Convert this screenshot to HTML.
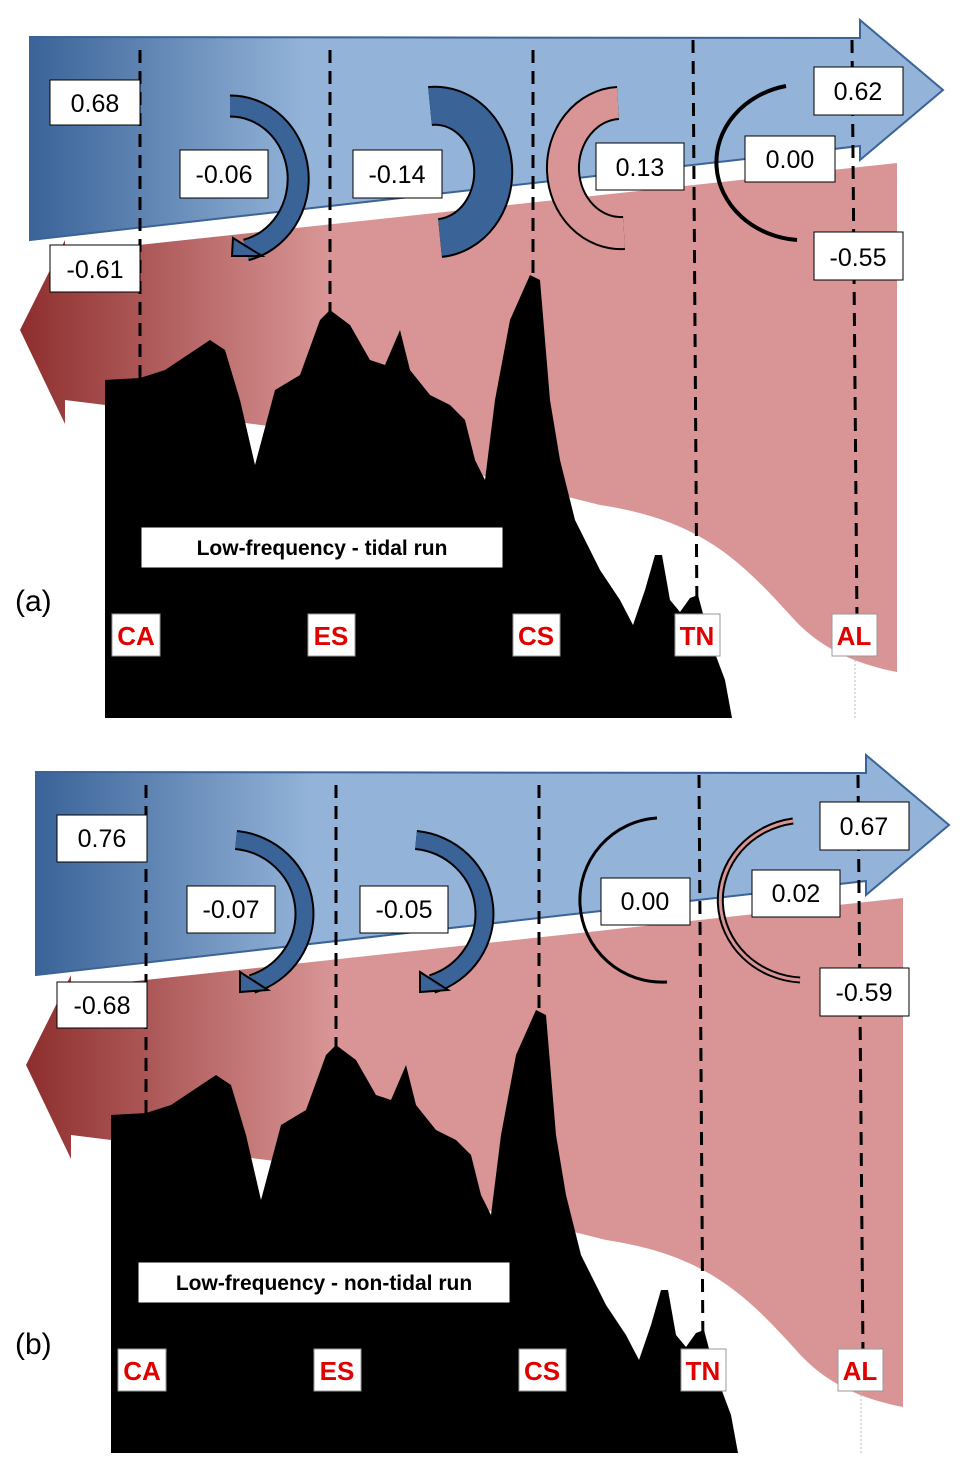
<!DOCTYPE html>
<html><head><meta charset="utf-8"><style>
html,body{margin:0;padding:0;background:#fff;}
svg{display:block;}
text{font-family:"Liberation Sans",sans-serif;}
.v{font-size:25px;text-anchor:middle;fill:#000;}
.s{font-size:26px;font-weight:bold;text-anchor:middle;fill:#e00000;}
</style></head><body>
<svg width="966" height="1473" viewBox="0 0 966 1473" xmlns="http://www.w3.org/2000/svg">
<defs>
<linearGradient id="bg" x1="0" x2="1" y1="0" y2="0">
<stop offset="0" stop-color="#3a6398"/><stop offset="0.3" stop-color="#93b3d8"/><stop offset="1" stop-color="#93b3d8"/>
</linearGradient>
<linearGradient id="pg" x1="0" x2="1" y1="0" y2="0">
<stop offset="0" stop-color="#8e2e2e"/><stop offset="0.35" stop-color="#d99595"/><stop offset="1" stop-color="#d99595"/>
</linearGradient>
<g id="base">
<path d="M65,240 L65,253 L897,163 L897,672 C860,665 820,650 790,615 C740,560 700,520 600,505 L300,430 L105,405 L65,400 L65,424 L20,330 Z" fill="url(#pg)"/>
<path d="M30,37 L860,38 L860,20 L943,90 L860,160 L860,146 L30,240 Z" fill="url(#bg)" stroke="#3a6398" stroke-width="2"/>
<path d="M105,380 L140,378 L165,370 L210,340 L225,350 L240,400 L255,465 L275,390 L300,375 L320,320 L330,310 L350,325 L370,360 L385,365 L400,330 L410,370 L430,395 L450,405 L465,420 L475,460 L485,480 L495,400 L510,320 L530,275 L540,280 L550,400 L560,460 L575,520 L600,570 L620,600 L633,625 L645,590 L655,555 L662,555 L670,600 L680,612 L690,598 L698,595 L710,640 L725,680 L732,718 L105,718 Z" fill="#000"/>
<g stroke="#000" stroke-width="3" stroke-dasharray="13,8">
<line x1="140" y1="50" x2="140" y2="620"/>
<line x1="330" y1="50" x2="330" y2="620"/>
<line x1="533" y1="50" x2="533" y2="620"/>
<line x1="693" y1="40" x2="697" y2="620"/>
<line x1="852" y1="40" x2="857" y2="620"/>
</g>
<line x1="855" y1="656" x2="855" y2="718" stroke="#bbb" stroke-width="1" stroke-dasharray="2,2"/>
<g fill="#fff" stroke="#999" stroke-width="1">
<rect x="112" y="614" width="48" height="42"/><rect x="308" y="614" width="47" height="42"/>
<rect x="513" y="614" width="47" height="42"/><rect x="675" y="614" width="45" height="42"/>
<rect x="832" y="614" width="45" height="42"/>
</g>
<text class="s" x="136" y="645">CA</text><text class="s" x="331" y="645">ES</text>
<text class="s" x="536" y="645">CS</text><text class="s" x="697" y="645">TN</text>
<text class="s" x="854" y="645">AL</text>
</g>
</defs>

<use href="#base"/>
<path d="M230,106 A68,73 0 0 1 246,250" fill="none" stroke="#000" stroke-width="23"/>
<path d="M230,106 A68,73 0 0 1 246,250" fill="none" stroke="#3a6398" stroke-width="19"/>
<path d="M233,238 L262,256 L232,256 Z" fill="#3a6398" stroke="#000" stroke-width="2"/>
<path d="M430,106 A58,66 0 0 1 440,238" fill="none" stroke="#000" stroke-width="40"/>
<path d="M430,106 A58,66 0 0 1 440,238" fill="none" stroke="#3a6398" stroke-width="36"/>
<path d="M618,103 A58,65 0 0 0 624,233" fill="none" stroke="#000" stroke-width="34"/>
<path d="M618,103 A58,65 0 0 0 624,233" fill="none" stroke="#d99595" stroke-width="30"/>
<path d="M786,86 A88,78 0 0 0 797,240" fill="none" stroke="#000" stroke-width="4"/>
<g fill="#fff" stroke="#000" stroke-width="1">
<rect x="50" y="80" width="90" height="45"/><rect x="180" y="150" width="88" height="48"/>
<rect x="353" y="150" width="89" height="48"/><rect x="596" y="143" width="88" height="47"/>
<rect x="745" y="136" width="90" height="46"/><rect x="814" y="67" width="89" height="48"/>
<rect x="50" y="245" width="90" height="47"/><rect x="814" y="232" width="89" height="48"/>
<rect x="141" y="527" width="362" height="41"/>
</g>
<text class="v" x="95" y="112">0.68</text><text class="v" x="224" y="183">-0.06</text>
<text class="v" x="397" y="183">-0.14</text><text class="v" x="640" y="176">0.13</text>
<text class="v" x="790" y="168">0.00</text><text class="v" x="858" y="100">0.62</text>
<text class="v" x="95" y="278">-0.61</text><text class="v" x="858" y="266">-0.55</text>
<text x="322" y="555" font-size="21" font-weight="bold" text-anchor="middle">Low-frequency - tidal run</text>
<text x="15" y="611" font-size="30">(a)</text>

<g transform="translate(6,735)"><use href="#base"/></g>
<path d="M236,840 A76,74 0 0 1 252,984" fill="none" stroke="#000" stroke-width="20"/>
<path d="M236,840 A76,74 0 0 1 252,984" fill="none" stroke="#3a6398" stroke-width="16"/>
<path d="M240,972 L268,990 L240,992 Z" fill="#3a6398" stroke="#000" stroke-width="2"/>
<path d="M416,840 A76,74 0 0 1 432,984" fill="none" stroke="#000" stroke-width="20"/>
<path d="M416,840 A76,74 0 0 1 432,984" fill="none" stroke="#3a6398" stroke-width="16"/>
<path d="M420,972 L448,990 L420,992 Z" fill="#3a6398" stroke="#000" stroke-width="2"/>
<path d="M657,818 A82,82 0 0 0 667,982" fill="none" stroke="#000" stroke-width="3"/>
<path d="M793,821 A85,80 0 0 0 800,980" fill="none" stroke="#000" stroke-width="7"/>
<path d="M793,821 A85,80 0 0 0 800,980" fill="none" stroke="#d99595" stroke-width="3"/>
<g fill="#fff" stroke="#000" stroke-width="1">
<rect x="57" y="815" width="90" height="47"/><rect x="187" y="886" width="88" height="47"/>
<rect x="360" y="886" width="88" height="47"/><rect x="601" y="878" width="89" height="47"/>
<rect x="752" y="870" width="88" height="47"/><rect x="820" y="802" width="89" height="48"/>
<rect x="57" y="982" width="90" height="46"/><rect x="820" y="968" width="89" height="48"/>
<rect x="138" y="1262" width="372" height="41"/>
</g>
<text class="v" x="102" y="847">0.76</text><text class="v" x="231" y="918">-0.07</text>
<text class="v" x="404" y="918">-0.05</text><text class="v" x="645" y="910">0.00</text>
<text class="v" x="796" y="902">0.02</text><text class="v" x="864" y="835">0.67</text>
<text class="v" x="102" y="1014">-0.68</text><text class="v" x="864" y="1001">-0.59</text>
<text x="324" y="1290" font-size="21" font-weight="bold" text-anchor="middle">Low-frequency - non-tidal run</text>
<text x="15" y="1354" font-size="30">(b)</text>
</svg>
</body></html>
